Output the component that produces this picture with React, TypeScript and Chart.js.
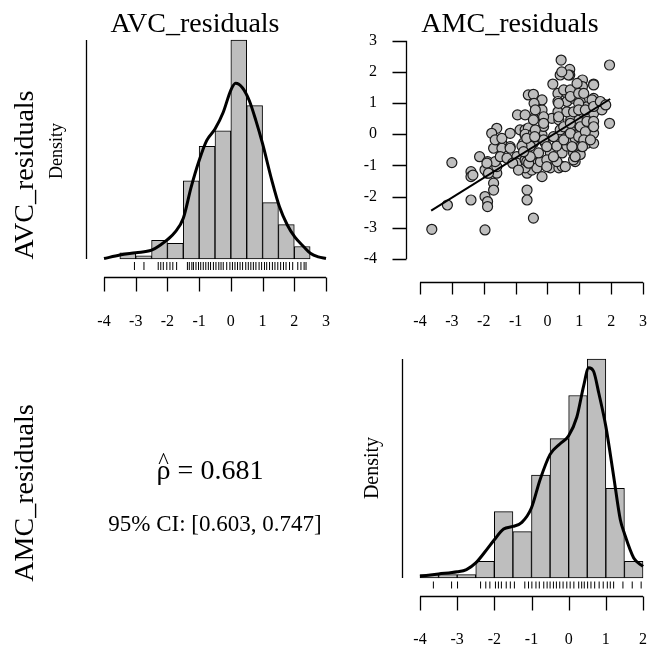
import React, { useEffect, useRef } from "react";
import { Chart, registerables } from "chart.js";

Chart.register(...registerables);

const SERIF = "'Liberation Serif', 'Times New Roman', Times, serif";

// ---------------- data ----------------
const BIN_WIDTH = 0.5;

// AVC_residuals histogram (counts per 0.5-wide bin)
const avcBinStarts = [-3.5, -3, -2.5, -2, -1.5, -1, -0.5, 0, 0.5, 1, 1.5, 2];
const avcCounts = [2, 1, 6, 5, 25, 36, 41, 70, 49, 18, 11, 4];
// AVC kernel density estimate
const avcKdeX = [-4, -3.5, -3, -2.5, -2.23, -2, -1.76, -1.5, -1.25, -1, -0.76, -0.5, -0.24, 0, 0.15, 0.37, 0.58, 0.79, 1, 1.29, 1.53, 1.78, 2.02, 2.29, 2.52, 2.76, 3];
const avcKdeY = [0.001, 0.0095, 0.015, 0.021, 0.033, 0.046, 0.064, 0.097, 0.172, 0.235, 0.283, 0.31, 0.35, 0.403, 0.419, 0.408, 0.378, 0.33, 0.275, 0.188, 0.125, 0.081, 0.052, 0.03, 0.013, 0.005, 0.001];
// AVC rug
const avcRug = [-3.04, -2.74, -2.29, -2.21, -2.13, -2.02, -1.92, -1.83, -1.71, -1.37, -1.31, -1.23, -1.18, -1.1, -1.02, -0.95, -0.87, -0.79, -0.71, -0.64, -0.55, -0.47, -0.38, -0.31, -0.24, -0.13, -0.03, 0.05, 0.13, 0.21, 0.29, 0.37, 0.47, 0.55, 0.63, 0.71, 0.79, 0.89, 0.97, 1.06, 1.13, 1.22, 1.31, 1.39, 1.48, 1.57, 1.66, 1.74, 1.85, 1.95, 2.11, 2.21, 2.31, 2.37];

// AMC_residuals histogram
const amcBinStarts = [-4, -3.5, -3, -2.5, -2, -1.5, -1, -0.5, 0, 0.5, 1, 1.5];
const amcCounts = [1, 1, 1, 5, 20, 14, 31, 42, 55, 66, 27, 5];
const amcKdeX = [-4, -3.5, -3, -2.75, -2.5, -2.25, -2, -1.75, -1.5, -1.26, -1, -0.77, -0.5, -0.23, 0, 0.22, 0.4, 0.54, 0.67, 0.81, 1, 1.21, 1.39, 1.5, 1.75, 2];
const amcKdeY = [0.004, 0.009, 0.014, 0.019, 0.034, 0.059, 0.086, 0.11, 0.116, 0.125, 0.158, 0.221, 0.278, 0.302, 0.32, 0.362, 0.431, 0.473, 0.465, 0.416, 0.341, 0.229, 0.131, 0.1, 0.045, 0.026];
const amcRug = [-3.64, -3.15, -2.99, -2.37, -2.23, -2.12, -1.97, -1.89, -1.81, -1.68, -1.57, -1.46, -1.18, -1.08, -0.99, -0.88, -0.79, -0.67, -0.58, -0.5, -0.41, -0.33, -0.24, -0.15, -0.05, 0.04, 0.14, 0.27, 0.35, 0.42, 0.51, 0.6, 0.7, 0.82, 0.93, 1.04, 1.12, 1.21, 1.46, 1.71, 1.95];

// scatter: x = AMC_residuals, y = AVC_residuals
const scatterAMC = [
  -3.63, -3.14, -3.0, -2.4, -2.4, -2.4, -2.13, -1.96, -1.96, -1.88, -1.88, -1.88, -1.88, -1.96, -1.69, -1.69, -1.59, -1.59, -1.64, -1.69,
  -1.43, -1.43, -1.48, -1.17, -0.96, -0.96, -0.7, -0.64, -0.64, -0.64, -0.64, -1.59, -1.75, -1.64, -1.43, -1.17, -0.94, -0.86, -0.7, -0.6,
  -0.7, -0.6, -0.44, -0.49, -0.44, -0.17, -0.7, -0.33, 0.09, 0.36, 0.46, -0.65, -0.22, 0.3, 0.87, -0.65, -0.28, 0.09, 0.46, 0.82,
  1.03, -0.75, -0.44, -0.07, 0.36, 0.61, 0.87, 1.14, -0.7, -0.44, -0.17, 0.4, 0.87, 1.14, 0.29, 0.61, 1.03, -0.54, -0.8, 0.19,
  0.61, 0.87, 1.24, 1.45, -0.38, -0.65, -0.12, 0.4, 0.72, 1.1, 1.45, 0.14, -0.12, -0.38, 0.36, 0.73, 0.99, 0.33, 0.61, 0.82,
  1.1, 1.24, 1.45, -0.38, -0.17, -0.44, -0.7, 0.33, 0.61, 0.33, 0.61, 0.82, 1.03, 1.24, 1.45, 1.71, 1.71, 1.95, -0.44, -0.17,
  0.17, 1.1, 1.45, 1.1, 0.43, 0.7, 0.4, 0.7, 1.95, -1.9, -1.27, -1.09, -0.91, -0.12, -0.12, -0.02, -0.02, -0.02, 0.19, 0.35,
  0.35, 0.51, 0.51, 0.51, 0.56, 0.72, 0.72, 0.72, 0.72, 0.77, 0.82, 0.93, 0.98, 0.98, 0.98, 1.03, 0.98, 0.87, 1.14, 1.19,
  1.24, 1.19, 1.14, 1.1, 1.45, 1.4, 1.45, 1.45, 1.45, 1.35, 1.66, 1.83, -2.34, -1.85, 0.66, 0.45, -0.42, -0.38, -0.4, -0.44,
  -0.59, -0.54, -1.17, -0.75
];
const scatterAVC = [
  -3.05, -2.27, -0.91, -2.11, -1.2, -1.36, -0.72, -3.07, -2.0, -2.16, -2.32, -0.88, -1.25, -1.14, -1.57, -1.79, -1.25, -1.04, -0.88, -0.45,
  -0.29, -0.45, -0.72, -0.4, -0.72, -0.93, -0.82, -1.25, -0.4, -1.79, -2.11, 0.19, 0.03, -0.18, -0.13, 0.03, 0.62, 0.14, 0.14, 1.26,
  -0.03, 0.2, -2.69, -1.15, -0.93, -1.36, -1.08, -1.08, -1.08, -1.08, -1.03, -0.88, -0.88, -0.88, -0.88, -0.6, -0.6, -0.6, -0.6, -0.6,
  -0.65, -0.28, -0.28, -0.28, -0.28, -0.32, -0.3, -0.32, 0.0, 0.02, -0.02, 0.0, 0.02, 0.0, -0.38, -0.38, -0.38, -0.38, -0.38, -0.08,
  -0.18, -0.13, -0.29, -0.29, -0.08, -0.13, -0.18, 0.14, 0.14, 0.25, 0.03, 0.51, 0.25, 0.14, 0.46, 0.46, 0.46, 0.72, 0.72, 0.72,
  0.72, 0.56, 0.67, 0.94, 0.78, 0.51, 0.62, 1.31, 1.31, 1.05, 1.05, 1.15, 1.05, 0.88, 1.15, 0.99, 0.78, 0.35, 1.28, 1.1,
  1.61, 1.74, 1.61, 1.53, 2.38, 2.08, 1.9, 1.9, 2.22, -0.93, -0.77, -0.93, -1.15, 0.56, 0.35, -0.4, -0.82, -1.04, -0.72, 0.99,
  0.56, 1.42, 0.24, -0.18, -1.04, 1.42, 1.21, 0.35, 0.03, -0.4, -0.82, 1.63, 1.31, 0.99, 0.78, 0.24, -0.08, -0.72, 1.31, 0.78,
  0.41, 0.08, -0.18, -0.4, 1.58, 1.1, 0.89, 0.41, 0.24, -0.18, 1.05, 0.94, -1.31, -1.25, 1.9, 2.0, 0.99, 0.78, -0.08, 0.46,
  -0.93, -0.72, -0.45, -0.56
];
// fitted regression line (AVC on AMC)
const fitX = [-3.65, 1.97];
const fitY = [-2.45, 1.13];

const histTicksAVC = [-4, -3, -2, -1, 0, 1, 2, 3];
const histTicksAMC = [-4, -3, -2, -1, 0, 1, 2];
const scatterXTicks = [-4, -3, -2, -1, 0, 1, 2, 3];
const scatterYTicks = [-4, -3, -2, -1, 0, 1, 2, 3];

const rhoSymbol = "\u03C1";
const rhoValue = " = 0.681";
const ciText = "95% CI: [0.603, 0.747]";

// ---------------- helpers ----------------
const tickFont = { family: SERIF, size: 16 };

function fixedTicks(vals: number[]) {
  return (scale: any) => {
    scale.ticks = vals.map((v) => ({ value: v }));
  };
}

function rAxesPlugin(opts: any) {
  return {
    id: "rStyleAxes",
    afterDatasetsDraw(chart: any) {
      const { ctx, chartArea, scales } = chart;
      const xs = scales.x;
      const ys = scales.y;
      ctx.save();
      ctx.strokeStyle = "#000";
      ctx.lineWidth = 1.3;
      ctx.beginPath();
      const yb = Math.round(chartArea.bottom) + 0.5;
      const xt = opts.xTicks;
      ctx.moveTo(xs.getPixelForValue(xt[0]), yb);
      ctx.lineTo(xs.getPixelForValue(xt[xt.length - 1]), yb);
      xt.forEach((v: number) => {
        const p = Math.round(xs.getPixelForValue(v)) + 0.5;
        ctx.moveTo(p, yb);
        ctx.lineTo(p, yb + opts.xTickLen);
      });
      if (opts.yTicks) {
        const xl = Math.round(chartArea.left) + 0.5;
        const yt = opts.yTicks;
        ctx.moveTo(xl, ys.getPixelForValue(yt[0]));
        ctx.lineTo(xl, ys.getPixelForValue(yt[yt.length - 1]));
        yt.forEach((v: number) => {
          const p = Math.round(ys.getPixelForValue(v)) + 0.5;
          ctx.moveTo(xl, p);
          ctx.lineTo(xl - opts.yTickLen, p);
        });
      }
      if (opts.densityLine) {
        const xl = Math.round(chartArea.left - opts.densityLine.offset) + 0.5;
        ctx.moveTo(xl, ys.getPixelForValue(opts.densityLine.top));
        ctx.lineTo(xl, ys.getPixelForValue(0));
      }
      ctx.stroke();
      ctx.restore();
    },
  };
}

// x axis whose labels sit `labelGap` px below the chart area (via an invisible tick length)
function xAxisOptions(min: number, max: number, ticks: number[], height: number, labelGap: number) {
  return {
    type: "linear",
    min,
    max,
    offset: false,
    grid: { display: false, drawTicks: true, tickLength: labelGap },
    border: { display: false },
    afterBuildTicks: fixedTicks(ticks),
    afterFit: (s: any) => {
      s.height = height;
    },
    ticks: {
      color: "#000",
      font: tickFont,
      padding: 0,
      maxRotation: 0,
      autoSkip: false,
      callback: (v: any) => String(v),
    },
  };
}

function histConfig(p: any) {
  const n = p.counts.reduce((a: number, b: number) => a + b, 0);
  const density = p.counts.map((c: number) => c / (n * BIN_WIDTH));
  const yMax = Math.max(...density);
  const plotH = 219; // px between baseline and top of tallest bar
  const yMin = (-yMax * p.axisGap) / plotH;
  const rugY = (-yMax * p.rugGap) / plotH;
  return {
    type: "bar",
    data: {
      datasets: [
        {
          type: "line",
          data: p.kdeX.map((x: number, i: number) => ({ x, y: p.kdeY[i] })),
          borderColor: "#000",
          borderWidth: 3,
          pointRadius: 0,
          cubicInterpolationMode: "monotone",
          fill: false,
          clip: false,
        },
        {
          type: "scatter",
          data: p.rug.map((x: number) => ({ x, y: rugY })),
          pointStyle: "line",
          rotation: 90,
          pointRadius: p.rugHalf,
          borderColor: "#000",
          borderWidth: 1,
          clip: false,
        },
        {
          type: "bar",
          data: p.binStarts.map((s: number, i: number) => ({ x: s + BIN_WIDTH / 2, y: density[i] })),
          backgroundColor: "#bebebe",
          borderColor: "#000",
          borderWidth: 1,
          borderSkipped: false,
          barPercentage: 1,
          categoryPercentage: 1,
          clip: false,
        },
      ],
    },
    options: {
      responsive: false,
      animation: false,
      events: [],
      layout: { padding: p.padding },
      plugins: { legend: { display: false }, tooltip: { enabled: false } },
      scales: {
        x: xAxisOptions(p.xMin, p.xMax, p.xTicks, p.axisHeight, p.labelGap),
        y: { type: "linear", display: false, min: yMin, max: yMax },
      },
    },
    plugins: [
      rAxesPlugin({
        xTicks: p.xTicks,
        xTickLen: 14,
        densityLine: { offset: 18, top: yMax },
      }),
    ],
  };
}

function scatterConfig() {
  return {
    type: "scatter",
    data: {
      datasets: [
        {
          type: "line",
          data: fitX.map((x, i) => ({ x, y: fitY[i] })),
          borderColor: "#000",
          borderWidth: 2,
          pointRadius: 0,
          fill: false,
          clip: false,
        },
        {
          data: scatterAMC.map((x, i) => ({ x, y: scatterAVC[i] })),
          pointRadius: 5,
          backgroundColor: "#bebebe",
          borderColor: "#1a1a1a",
          borderWidth: 1.2,
          clip: false,
        },
      ],
    },
    options: {
      responsive: false,
      animation: false,
      events: [],
      layout: { padding: { left: 0, right: 17, top: 40.7, bottom: 0 } },
      plugins: { legend: { display: false }, tooltip: { enabled: false } },
      scales: {
        x: xAxisOptions(-4.44, 3, scatterXTicks, 48, 30.4),
        y: {
          type: "linear",
          min: -4.74,
          max: 3,
          grid: { display: false, drawTicks: true, tickLength: 29 },
          border: { display: false },
          afterBuildTicks: fixedTicks(scatterYTicks),
          afterFit: (s: any) => {
            s.width = 76;
          },
          ticks: {
            color: "#000",
            font: tickFont,
            padding: 0,
            autoSkip: false,
            callback: (v: any) => String(v),
          },
        },
      },
    },
    plugins: [
      rAxesPlugin({
        xTicks: scatterXTicks,
        xTickLen: 12,
        yTicks: scatterYTicks,
        yTickLen: 14,
      }),
    ],
  };
}

function ChartBox(props: { left: number; top: number; width: number; height: number; build: () => any }) {
  const ref = useRef<HTMLCanvasElement | null>(null);
  useEffect(() => {
    if (!ref.current) return;
    const chart = new Chart(ref.current, props.build());
    return () => chart.destroy();
  }, []);
  return (
    <canvas
      ref={ref}
      width={props.width}
      height={props.height}
      style={{ position: "absolute", left: props.left, top: props.top, width: props.width, height: props.height }}
    />
  );
}

function Label(props: { children: any; cx: number; cy: number; size: number; rotate?: boolean }) {
  return (
    <div
      style={{
        position: "absolute",
        left: props.cx,
        top: props.cy,
        transform: `translate(-50%, -50%)${props.rotate ? " rotate(-90deg)" : ""}`,
        fontFamily: SERIF,
        fontSize: props.size,
        lineHeight: `${props.size}px`,
        whiteSpace: "nowrap",
        color: "#000",
      }}
    >
      {props.children}
    </div>
  );
}

export default function App() {
  return (
    <div style={{ position: "absolute", left: 0, top: 0, width: 660, height: 647, background: "#fff", overflow: "hidden" }}>
      <ChartBox
        left={0}
        top={0}
        width={340}
        height={330}
        build={() =>
          histConfig({
            binStarts: avcBinStarts,
            counts: avcCounts,
            kdeX: avcKdeX,
            kdeY: avcKdeY,
            rug: avcRug,
            xMin: -4,
            xMax: 3,
            xTicks: histTicksAVC,
            padding: { left: 104, right: 14, top: 40, bottom: 0 },
            axisHeight: 53,
            labelGap: 35.4,
            axisGap: 18,
            rugGap: 7,
            rugHalf: 4,
          })
        }
      />
      <ChartBox left={330} top={0} width={330} height={330} build={scatterConfig} />
      <ChartBox
        left={330}
        top={330}
        width={330}
        height={317}
        build={() =>
          histConfig({
            binStarts: amcBinStarts,
            counts: amcCounts,
            kdeX: amcKdeX,
            kdeY: amcKdeY,
            rug: amcRug,
            xMin: -4,
            xMax: 2,
            xTicks: histTicksAMC,
            padding: { left: 90, right: 17, top: 29, bottom: 0 },
            axisHeight: 51.3,
            labelGap: 34.7,
            axisGap: 17.7,
            rugGap: 7,
            rugHalf: 3.5,
          })
        }
      />
      <Label cx={195} cy={22.5} size={28}>AVC_residuals</Label>
      <Label cx={510} cy={22.5} size={28}>AMC_residuals</Label>
      <Label cx={23.5} cy={175} size={28} rotate>AVC_residuals</Label>
      <Label cx={23.5} cy={493} size={28} rotate>AMC_residuals</Label>
      <Label cx={56} cy={151} size={18} rotate>Density</Label>
      <Label cx={371} cy={468} size={20} rotate>Density</Label>
      <Label cx={210} cy={470} size={28}>
        <span style={{ position: "relative", display: "inline-block" }}>
          {rhoSymbol}
          <span style={{ position: "absolute", left: "50%", top: "-0.42em", transform: "translateX(-50%)", fontSize: "0.8em" }}>^</span>
        </span>
        {rhoValue}
      </Label>
      <Label cx={215} cy={523} size={23}>{ciText}</Label>
    </div>
  );
}
